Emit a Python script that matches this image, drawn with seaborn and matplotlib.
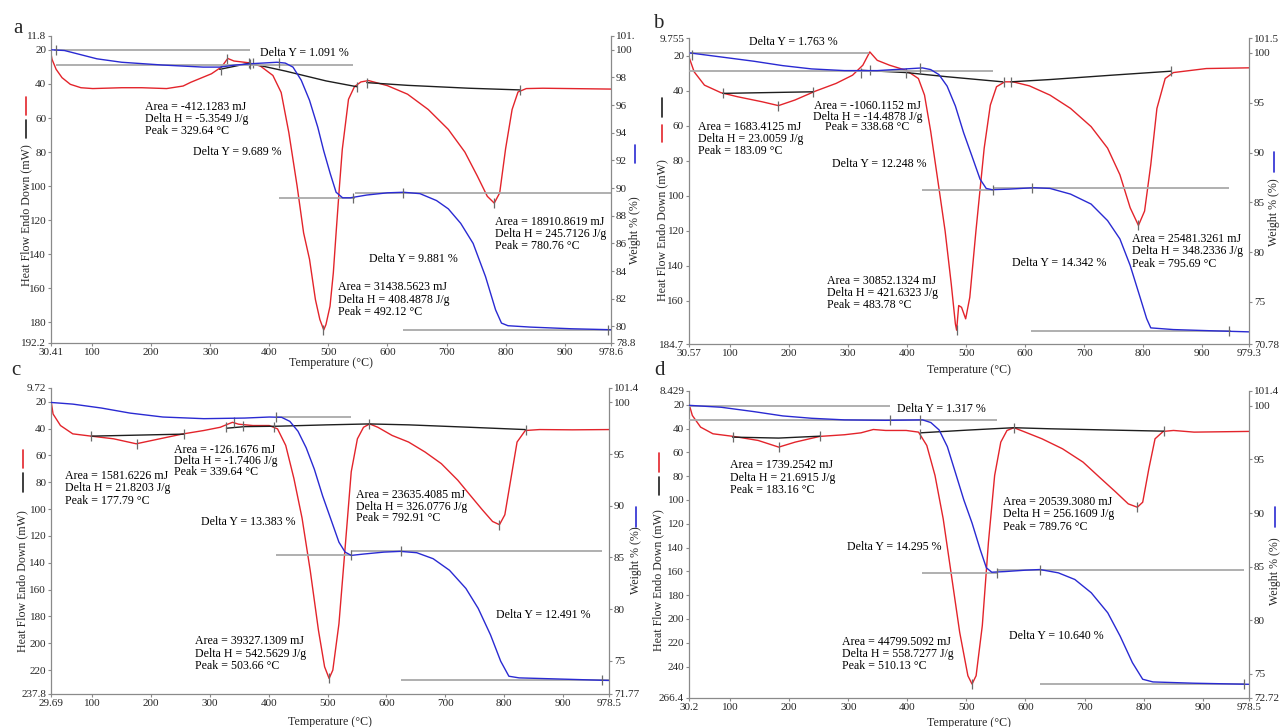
import matplotlib
matplotlib.use("Agg")
import matplotlib.pyplot as plt
import seaborn as sns
from matplotlib.lines import Line2D

# ---------------- panel a ----------------
A_X_TICKS = [30.41, 100, 200, 300, 400, 500, 600, 700, 800, 900, 978.6]
A_HF_TICKS = [11.8, 20, 40, 60, 80, 100, 120, 140, 160, 180, 192.2]
A_W_TICKS = [78.8, 80, 82, 84, 86, 88, 90, 92, 94, 96, 98, 100, 101.0]
A_W_LABELS = ['78.8', '80', '82', '84', '86', '88', '90', '92', '94', '96', '98', '100', '101.']

A_DSC_T = [29, 32, 39, 49, 63, 81, 101, 150, 184, 226, 254, 267, 302, 319, 329.6, 340, 364, 385, 406, 420,
           433, 447, 458, 468, 478, 485.5, 492.1, 495.8, 502.7, 508.3, 513, 518.7, 523.5, 534, 544, 555, 568,
           600, 634, 669, 703, 731, 752, 769, 780.8, 790, 800, 811, 821, 835, 863, 978.6]
A_DSC_HF = [19.6, 25.5, 31.4, 36.3, 40.2, 42.2, 42.7, 42.2, 42.2, 42.7, 41.2, 39, 34, 30, 25, 26.5, 27.5, 29.5,
            35, 45, 68.6, 100, 127.5, 143, 166.7, 178.4, 184.5, 181.4, 170.6, 151, 127.5, 100, 78.4, 49, 41.6,
            38.8, 38, 41, 46, 55, 66.7, 80, 94, 106, 110, 104, 78, 55, 44.7, 42.7, 42.5, 43]
A_BASE = [([316, 366, 427, 496, 548], [31.4, 27.8, 32.4, 38.2, 41.6]),
          ([565, 634, 738, 825], [39.2, 40.8, 42.5, 43.5])]
A_TGA_T = [32, 53, 108, 150, 219, 288, 316, 343, 371, 413, 427, 440, 454, 468, 482, 492, 503, 513, 524, 537,
           565, 600, 627, 655, 683, 703, 724, 745, 766, 783, 793, 804, 842, 911, 978.6]
A_TGA_W = [100, 99.95, 99.35, 99.1, 98.9, 98.75, 98.75, 98.9, 99.0, 99.1, 99.04, 98.75, 97.8, 96.35, 94.4,
           92.7, 91.06, 89.7, 89.3, 89.3, 89.5, 89.66, 89.7, 89.6, 89.1, 88.5, 87.45, 86.0, 83.6, 81.2, 80.24,
           80.05, 79.95, 79.83, 79.76]
A_STEPS = [(36, 368, 100.0), (39, 541, 98.91), (416, 545, 89.31), (545, 978, 89.66), (627, 978, 79.77)]
A_HF_MARKS_T = [318, 328, 366, 373, 548, 565, 780, 825, 491]
A_HF_MARKS = [31.8, 25.1, 27.8, 27.8, 41.6, 39.2, 110.2, 43.5, 184.3]
A_W_MARKS_T = [39, 368, 416, 541, 627, 973]
A_W_MARKS = [100, 99.0, 99.04, 89.31, 89.66, 79.77]
A_NOTES = [(385, 21.6, "Delta Y = 1.091 %", 'left', 'center', 1.0),
           (189, 50, "Area = -412.1283 mJ\nDelta H = -5.3549 J/g\nPeak = 329.64 °C", 'left', 'top', 1.02),
           (270, 80, "Delta Y = 9.689 %", 'left', 'center', 1.0),
           (782, 117.6, "Area = 18910.8619 mJ\nDelta H = 245.7126 J/g\nPeak = 780.76 °C", 'left', 'top', 1.02),
           (568, 142.7, "Delta Y = 9.881 %", 'left', 'center', 1.0),
           (517, 156, "Area = 31438.5623 mJ\nDelta H = 408.4878 J/g\nPeak = 492.12 °C", 'left', 'top', 1.02)]

# ---------------- panel b ----------------
B_X_TICKS = [30.57, 100, 200, 300, 400, 500, 600, 700, 800, 900, 979.3]
B_HF_TICKS = [9.755, 20, 40, 60, 80, 100, 120, 140, 160, 184.7]
B_W_TICKS = [70.78, 75, 80, 85, 90, 95, 100, 101.5]
B_W_LABELS = ['70.78', '75', '80', '85', '90', '95', '100', '101.5']

B_DSC_T = [30.57, 39.4, 56.8, 84.7, 112.5, 154.4, 182.2, 210.1, 244.9, 279.8, 307.7, 325.1, 336.9, 349.5,
           370.4, 398.3, 419.2, 429.6, 440.1, 454, 464.5, 474.9, 481.9, 484, 487.5, 492.3, 499.3, 506.3, 516.7,
           530.7, 541.1, 551.6, 565.5, 579.4, 607.3, 642.2, 677, 711.8, 739.7, 760.6, 778, 792, 802.4, 812.9,
           823.3, 837.3, 851.2, 907, 979.3]
B_DSC_HF = [20.6, 29.1, 36.7, 41, 43.3, 46.2, 48.4, 45.2, 40.1, 35.7, 31, 25.3, 17.7, 22.5, 25.3, 28.2, 32.9,
            42.4, 63.2, 95.5, 120.1, 150.4, 173.2, 176.8, 162.7, 163.7, 170.3, 158, 120.1, 72.7, 48.1, 37.6,
            34.8, 34.8, 37.1, 42.4, 50, 60.4, 72.7, 87.9, 106.8, 116.9, 108.7, 82.2, 50, 32.9, 29.5, 27.2, 26.8]
B_BASE = [([88, 241], [41.4, 40.5]),
          ([322, 398, 468, 562], [28.2, 29.5, 31.9, 34.8]),
          ([576, 642, 747, 848], [34.8, 33.5, 31.0, 28.7])]
B_TGA_T = [32.4, 84.7, 140.4, 189.2, 238, 293.7, 349.5, 398.3, 426.1, 440.1, 454, 467.9, 481.9, 495.8, 509.8,
           523.7, 534.1, 544.6, 572.5, 614.3, 642.2, 677, 711.8, 739.7, 760.6, 778, 795.5, 805.9, 812.9, 851.2,
           920.9, 979.3]
B_TGA_W = [100, 99.6, 99.17, 98.73, 98.4, 98.23, 98.23, 98.4, 98.5, 98.33, 97.83, 96.67, 94.67, 92, 89.67,
           87.33, 86.4, 86.27, 86.33, 86.47, 86.4, 85.83, 84.83, 83.17, 81.33, 78.67, 75.33, 73.33, 72.4, 72.23,
           72.1, 72.0]
B_STEPS = [(29, 335, 100.0), (29, 545, 98.23), (426, 545, 86.25), (545, 945, 86.42), (610, 949, 72.07)]
B_HF_MARKS_T = [88, 182, 241, 322, 337, 398, 565, 576, 792, 848, 484]
B_HF_MARKS = [41.4, 48.4, 40.5, 29.5, 28.2, 29.5, 34.8, 34.8, 116.9, 28.7, 176.8]
B_W_MARKS_T = [35, 422, 545, 611, 945]
B_W_MARKS = [99.83, 98.5, 86.25, 86.42, 72.07]
B_NOTES = [(132, 12.0, "Delta Y = 1.763 %", 'left', 'center', 1.0),
           (46, 57.2, "Area = 1683.4125 mJ\nDelta H = 23.0059 J/g\nPeak = 183.09 °C", 'left', 'top', 1.02),
           (333, 45.2, "Area = -1060.1152 mJ\nDelta H = -14.4878 J/g\nPeak = 338.68 °C", 'center', 'top', 0.85),
           (273, 81.6, "Delta Y = 12.248 %", 'left', 'center', 1.0),
           (781, 121.4, "Area = 25481.3261 mJ\nDelta H = 348.2336 J/g\nPeak = 795.69 °C", 'left', 'top', 1.02),
           (578, 138.5, "Delta Y = 14.342 %", 'left', 'center', 1.0),
           (264, 145.3, "Area = 30852.1324 mJ\nDelta H = 421.6323 J/g\nPeak = 483.78 °C", 'left', 'top', 1.02)]

# ---------------- panel c ----------------
C_X_TICKS = [29.69, 100, 200, 300, 400, 500, 600, 700, 800, 900, 978.5]
C_HF_TICKS = [9.72, 20, 40, 60, 80, 100, 120, 140, 160, 180, 200, 220, 237.8]
C_W_TICKS = [71.77, 75, 80, 85, 90, 95, 100, 101.4]
C_W_LABELS = ['71.77', '75', '80', '85', '90', '95', '100', '101.4']

C_DSC_T = [29.69, 33.1, 45.7, 66.6, 97.9, 136.2, 174.5, 219.8, 254.6, 289.4, 317.3, 331.2, 338.2, 348.6, 373,
           400.8, 414.8, 428.7, 442.6, 456.5, 470.5, 484.4, 494.8, 502.5, 508.8, 519.2, 529.7, 540.1, 550.6, 561,
           571.4, 585.4, 609.7, 637.6, 665.5, 693.3, 721.2, 742.1, 763, 780.4, 792.2, 801.3, 811.7, 822.1, 836.1,
           860.4, 916.2, 978.5]
C_DSC_HF = [19.3, 29.1, 37.7, 43.9, 45.6, 47.6, 51.3, 47.1, 43.9, 41.4, 39, 36.5, 35.3, 36.7, 37.7, 37.7, 40.2,
            52.5, 77.1, 106.7, 146.1, 190.4, 217.5, 226.2, 220, 185.5, 128.9, 72.2, 47.6, 39, 36.5, 39, 45.1, 50,
            57.4, 66.1, 78.4, 89.5, 100.5, 109.2, 111.6, 104.2, 77.1, 50, 41.4, 40.7, 40.9, 40.7]
C_BASE = [([98, 255], [45.6, 44.1]),
          ([328, 359, 415, 498, 571, 638, 742, 836], [39.7, 38.5, 38.2, 37.2, 36.5, 37.2, 39.0, 40.7])]
C_TGA_T = [29.69, 66.6, 115.3, 164, 219.8, 289.4, 359, 400.8, 421.7, 435.7, 449.6, 463.5, 477.4, 491.4, 505.3,
           519.2, 529.7, 540.1, 561, 595.8, 623.7, 651.5, 679.4, 707.2, 735.1, 756, 776.9, 794.3, 808.2, 825.6,
           881.3, 978.5]
C_TGA_W = [100, 99.84, 99.46, 98.97, 98.59, 98.43, 98.49, 98.59, 98.56, 98.17, 97.21, 95.61, 93.53, 90.96,
           88.72, 86.47, 85.51, 85.19, 85.32, 85.51, 85.58, 85.45, 84.87, 83.75, 81.99, 80.06, 77.5, 74.94, 73.49,
           73.33, 73.24, 73.08]
C_STEPS = [(413, 540, 98.56), (413, 540, 85.19), (540, 966, 85.58), (624, 978, 73.1)]
C_HF_MARKS_T = [98, 175, 255, 328, 340, 356, 409, 571, 792, 838, 502.5]
C_HF_MARKS = [45.6, 51.3, 44.1, 39, 35.3, 37.7, 39, 36.5, 111.6, 40.7, 226.2]
C_W_MARKS_T = [413, 540, 624, 966]
C_W_MARKS = [98.56, 85.19, 85.58, 73.1]
C_NOTES = [(54, 71, "Area = 1581.6226 mJ\nDelta H = 21.8203 J/g\nPeak = 177.79 °C", 'left', 'top', 1.02),
           (239, 51.3, "Area = -126.1676 mJ\nDelta H = -1.7406 J/g\nPeak = 339.64 °C", 'left', 'top', 0.88),
           (285, 109.7, "Delta Y = 13.383 %", 'left', 'center', 1.0),
           (548, 85.3, "Area = 23635.4085 mJ\nDelta H = 326.0776 J/g\nPeak = 792.91 °C", 'left', 'top', 0.95),
           (786, 178.9, "Delta Y = 12.491 %", 'left', 'center', 1.0),
           (274, 194.1, "Area = 39327.1309 mJ\nDelta H = 542.5629 J/g\nPeak = 503.66 °C", 'left', 'top', 1.02)]

# ---------------- panel d ----------------
D_X_TICKS = [30.2, 100, 200, 300, 400, 500, 600, 700, 800, 900, 978.5]
D_HF_TICKS = [8.429, 20, 40, 60, 80, 100, 120, 140, 160, 180, 200, 220, 240, 266.4]
D_W_TICKS = [72.72, 75, 80, 85, 90, 95, 100, 101.4]
D_W_LABELS = ['72.72', '75', '80', '85', '90', '95', '100', '101.4']

D_DSC_T = [30.2, 35.9, 49.9, 70.8, 105.6, 147.4, 182.2, 210, 251.8, 293.6, 321.4, 342.3, 363.2, 398.1, 418.9,
           432.9, 446.8, 460.7, 474.7, 488.6, 502.5, 509.5, 516.4, 526.9, 537.3, 547.8, 558.2, 568.7, 580.5,
           596.5, 627.9, 662.7, 697.5, 725.3, 753.2, 774.1, 789.4, 798.5, 808.9, 819.4, 833.3, 850.7, 885.5, 978.5]
D_DSC_HF = [19.2, 29, 38.8, 44.4, 46.6, 50, 55.6, 51.4, 46.6, 45.2, 43.6, 40.8, 41.6, 41.6, 43, 54.2, 79.4,
            115.9, 163.6, 211.2, 247.7, 254.7, 247.7, 205.6, 135.5, 79.4, 51.4, 41.6, 39.3, 42.4, 48.6, 57, 68.2,
            80.9, 93.5, 103.3, 106.1, 101.9, 73.8, 48.6, 42.4, 41.6, 43, 42.4]
D_BASE = [([104, 182, 252], [47.2, 48.0, 46.4]),
          ([422, 502, 580, 642, 835], [43.6, 41.3, 39.3, 40.2, 42.2])]
D_TGA_T = [30.2, 84.7, 140.4, 189.1, 237.9, 293.6, 363.2, 425.9, 439.8, 453.8, 467.7, 481.6, 495.5, 509.5,
           523.4, 533.8, 542.9, 565.2, 600, 624.4, 655.7, 683.6, 711.4, 739.3, 760.2, 781.1, 798.5, 815.9, 885.5,
           978.5]
D_TGA_W = [100.06, 99.88, 99.47, 99.07, 98.85, 98.7, 98.66, 98.7, 98.45, 97.76, 96.2, 93.73, 91.24, 89.07,
           86.58, 84.88, 84.47, 84.53, 84.66, 84.72, 84.41, 83.79, 82.55, 80.68, 78.51, 76.02, 74.47, 74.22,
           74.1, 74.0]
D_STEPS = [(29, 370, 100.0), (30, 551, 98.68), (425, 551, 84.41), (551, 970, 84.64), (624, 970, 74.0)]
D_HF_MARKS_T = [104, 182, 252, 422, 580, 789, 835, 509.5]
D_HF_MARKS = [47.2, 55.6, 46.4, 44.4, 39.3, 106.1, 42.2, 254.7]
D_W_MARKS_T = [370, 422, 551, 624, 970]
D_W_MARKS = [98.68, 98.7, 84.41, 84.64, 74.0]
D_NOTES = [(383, 23.9, "Delta Y = 1.317 %", 'left', 'center', 1.0),
           (100, 66, "Area = 1739.2542 mJ\nDelta H = 21.6915 J/g\nPeak = 183.16 °C", 'left', 'top', 1.02),
           (562, 96.8, "Area = 20539.3080 mJ\nDelta H = 256.1609 J/g\nPeak = 789.76 °C", 'left', 'top', 1.02),
           (298, 139.7, "Delta Y = 14.295 %", 'left', 'center', 1.0),
           (572, 214, "Delta Y = 10.640 %", 'left', 'center', 1.0),
           (289, 214, "Area = 44799.5092 mJ\nDelta H = 558.7277 J/g\nPeak = 510.13 °C", 'left', 'top', 1.02)]

RED = '#e3242b'
BLUE = '#2a2ad2'
BLACK = '#1e1e1e'
GRAY = '#a9a9a9'
SPINE = '#8a8a8a'
FS = 8.6      # annotations / axis titles
TICK_FS = 8.0

sns.set_theme(style="ticks")
plt.rcParams['font.family'] = ['Liberation Serif', 'DejaVu Serif']
plt.rcParams['axes.unicode_minus'] = False


def fmt(v):
    return f"{v:g}"


def draw_panel(fig, rect, p):
    ax = fig.add_axes(rect)
    ax2 = ax.twinx()

    # heat flow (left, inverted) and baselines
    sns.lineplot(x=p['dsc_t'], y=p['dsc_hf'], ax=ax, color=RED, linewidth=1.0,
                 sort=False, estimator=None)
    for bt, bh in p['base']:
        sns.lineplot(x=bt, y=bh, ax=ax, color=BLACK, linewidth=1.0, sort=False, estimator=None)
    ax.plot(p['hf_mt'], p['hf_m'], ls='none', marker='|', ms=7, mew=0.9, color='#6a6a6a')

    # weight (right)
    for t0, t1, w in p['steps']:
        ax2.hlines(w, t0, t1, color=GRAY, linewidth=1.3)
    sns.lineplot(x=p['tga_t'], y=p['tga_w'], ax=ax2, color=BLUE, linewidth=1.0,
                 sort=False, estimator=None)
    ax2.plot(p['w_mt'], p['w_m'], ls='none', marker='|', ms=7, mew=0.9, color='#6a6a6a')

    xt, ht = p['xticks'], p['hfticks']
    ax.set_xlim(xt[0], xt[-1])
    ax.set_ylim(ht[-1], ht[0])
    ax.set_xticks(xt)
    ax.set_xticklabels([fmt(v) for v in xt])
    ax.set_yticks(ht)
    ax.set_yticklabels([fmt(v) for v in ht])
    ax2.set_ylim(p['wticks'][0], p['wticks'][-1])
    ax2.set_yticks(p['wticks'])
    ax2.set_yticklabels(p['wlabels'])
    ax.set_xlabel('')
    ax.set_ylabel('')
    ax2.set_ylabel('')

    for a in (ax, ax2):
        a.spines['top'].set_visible(False)
        for s in a.spines.values():
            s.set_color(SPINE)
            s.set_linewidth(0.9)
        a.tick_params(direction='out', length=2.5, width=0.8, color=SPINE, labelsize=TICK_FS, pad=1)
    ax.spines['right'].set_visible(False)
    ax2.spines['left'].set_visible(False)
    ax2.spines['bottom'].set_visible(False)

    for t, h, txt, ha, va, ls in p['notes']:
        ax.text(t, h, txt, ha=ha, va=va, fontsize=FS, linespacing=ls, color='black')

    # axis titles with the little colour keys
    lx, ly = p['ylab']
    ax.text(lx, ly, 'Heat Flow Endo Down (mW)', transform=ax.transAxes, rotation=90,
            ha='center', va='center', fontsize=FS)
    for col, (y0, y1) in p['keys']:
        ax.add_line(Line2D([lx, lx], [y0, y1], transform=ax.transAxes, color=col,
                           lw=1.2, clip_on=False))
    rx, ry = p['wlab']
    ax.text(rx, ry, 'Weight % (%)', transform=ax.transAxes, rotation=90,
            ha='center', va='center', fontsize=FS)
    by0, by1 = p['bkey']
    ax.add_line(Line2D([rx, rx], [by0, by1], transform=ax.transAxes, color=BLUE,
                       lw=1.2, clip_on=False))
    ax.text(0.5, p['xlab'], 'Temperature (°C)', transform=ax.transAxes,
            ha='center', va='center', fontsize=FS)
    return ax


fig = plt.figure(figsize=(12.83, 7.27), dpi=100)

panels = {
    'a': dict(rect=[0.0398, 0.5282, 0.4365, 0.4223], xticks=A_X_TICKS, hfticks=A_HF_TICKS,
              wticks=A_W_TICKS, wlabels=A_W_LABELS, dsc_t=A_DSC_T, dsc_hf=A_DSC_HF, base=A_BASE,
              tga_t=A_TGA_T, tga_w=A_TGA_W, steps=A_STEPS, hf_mt=A_HF_MARKS_T, hf_m=A_HF_MARKS,
              w_mt=A_W_MARKS_T, w_m=A_W_MARKS, notes=A_NOTES, ylab=(-0.045, 0.417),
              keys=[(RED, (0.743, 0.801)), (BLACK, (0.668, 0.726))], wlab=(1.043, 0.368),
              bkey=(0.586, 0.645), xlab=-0.066, letter=(0.014, 0.961)),
    'b': dict(rect=[0.5370, 0.5268, 0.4365, 0.4209], xticks=B_X_TICKS, hfticks=B_HF_TICKS,
              wticks=B_W_TICKS, wlabels=B_W_LABELS, dsc_t=B_DSC_T, dsc_hf=B_DSC_HF, base=B_BASE,
              tga_t=B_TGA_T, tga_w=B_TGA_W, steps=B_STEPS, hf_mt=B_HF_MARKS_T, hf_m=B_HF_MARKS,
              w_mt=B_W_MARKS_T, w_m=B_W_MARKS, notes=B_NOTES, ylab=(-0.048, 0.373),
              keys=[(BLACK, (0.742, 0.804)), (RED, (0.660, 0.716))], wlab=(1.045, 0.431),
              bkey=(0.562, 0.627), xlab=-0.085, letter=(0.513, 0.968)),
    'c': dict(rect=[0.0398, 0.0454, 0.4349, 0.4209], xticks=C_X_TICKS, hfticks=C_HF_TICKS,
              wticks=C_W_TICKS, wlabels=C_W_LABELS, dsc_t=C_DSC_T, dsc_hf=C_DSC_HF, base=C_BASE,
              tga_t=C_TGA_T, tga_w=C_TGA_W, steps=C_STEPS, hf_mt=C_HF_MARKS_T, hf_m=C_HF_MARKS,
              w_mt=C_W_MARKS_T, w_m=C_W_MARKS, notes=C_NOTES, ylab=(-0.051, 0.369),
              keys=[(RED, (0.739, 0.797)), (BLACK, (0.660, 0.722))], wlab=(1.048, 0.438),
              bkey=(0.546, 0.611), xlab=-0.092, letter=(0.0125, 0.491)),
    'd': dict(rect=[0.5370, 0.0399, 0.4365, 0.4223], xticks=D_X_TICKS, hfticks=D_HF_TICKS,
              wticks=D_W_TICKS, wlabels=D_W_LABELS, dsc_t=D_DSC_T, dsc_hf=D_DSC_HF, base=D_BASE,
              tga_t=D_TGA_T, tga_w=D_TGA_W, steps=D_STEPS, hf_mt=D_HF_MARKS_T, hf_m=D_HF_MARKS,
              w_mt=D_W_MARKS_T, w_m=D_W_MARKS, notes=D_NOTES, ylab=(-0.054, 0.384),
              keys=[(RED, (0.736, 0.798)), (BLACK, (0.661, 0.720))], wlab=(1.047, 0.414),
              bkey=(0.557, 0.622), xlab=-0.081, letter=(0.514, 0.491)),
}

for name, p in panels.items():
    draw_panel(fig, p['rect'], p)
    fig.text(p['letter'][0], p['letter'][1], name, fontsize=15, ha='center', va='center')

fig.savefig('out.png', dpi=100)
